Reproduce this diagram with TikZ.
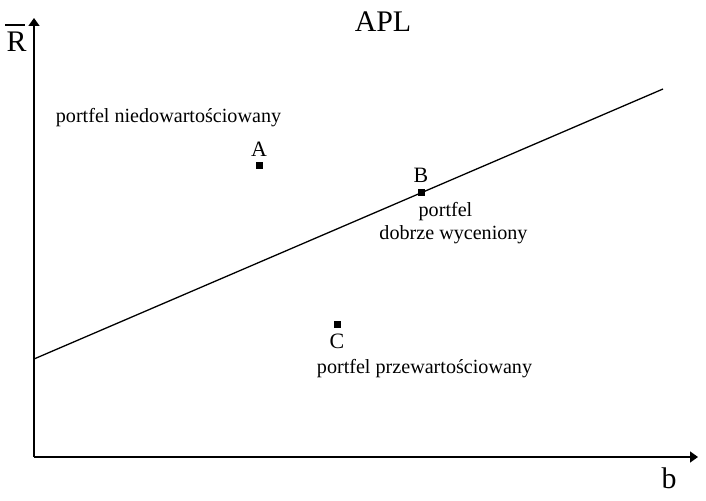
\documentclass[tikz,border=0pt]{standalone}
\usepackage{fontspec}
\setmainfont{Liberation Serif}
\usetikzlibrary{arrows.meta,positioning}
\newcommand{\kreskaR}{\makebox[0pt][l]{\hspace{-0.05em}\rule[0.87em]{0.67em}{0.067em}}R}
\begin{document}
\begin{tikzpicture}[x=1bp,y=-1bp,
	axis/.style={line width=1.4bp,-{Triangle[length=8bp,width=11bp]}},
	pkt/.style={fill=black,inner sep=0pt,minimum size=7bp},
	opis/.style={font=\fontsize{20.2}{22}\selectfont,inner sep=0pt,anchor=base},
	litera/.style={font=\fontsize{22}{24}\selectfont,inner sep=0pt,anchor=base}]
	\useasboundingbox (0,0) rectangle (706,501);
	\coordinate (O) at (34,457);
	\coordinate (Ry) at (34,18);
	\coordinate (bx) at (698,457);
	\draw[axis] (O) -- (Ry);
	\draw[axis] (O) -- (bx);
	\node[font=\fontsize{30}{32}\selectfont,inner sep=0pt,anchor=base] (Rlab) at (16.5,52) {\kreskaR};
	\node[font=\fontsize{30}{32}\selectfont,inner sep=0pt,anchor=base] (blab) at (669,488) {b};
	\node[font=\fontsize{30}{32}\selectfont,inner sep=0pt,anchor=base] (apl) at (383,32) {APL};
	% linia APL
	\coordinate (L0) at (34,359);
	\coordinate (L1) at (663,89);
	\draw[line width=1.3bp] (L0) -- (L1);
	% portfele
	\node[pkt] (A) at (259,166) {};
	\node[pkt] (B) at (421,193) {};
	\node[pkt] (C) at (337,324) {};
	\node[litera] (Alab) at (259,157) {A};
	\node[litera] (Blab) at (421,183) {B};
	\node[litera] (Clab) at (337,348) {C};
	\node[opis] (niedo) at (168.5,123) {portfel niedowarto\'sciowany};
	\node[opis] (dobrze1) at (445.5,217) {portfel};
	\node[opis] (dobrze2) at (453.5,240) {dobrze wyceniony};
	\node[opis] (prze) at (424.5,373) {portfel przewarto\'sciowany};
\end{tikzpicture}
\end{document}
